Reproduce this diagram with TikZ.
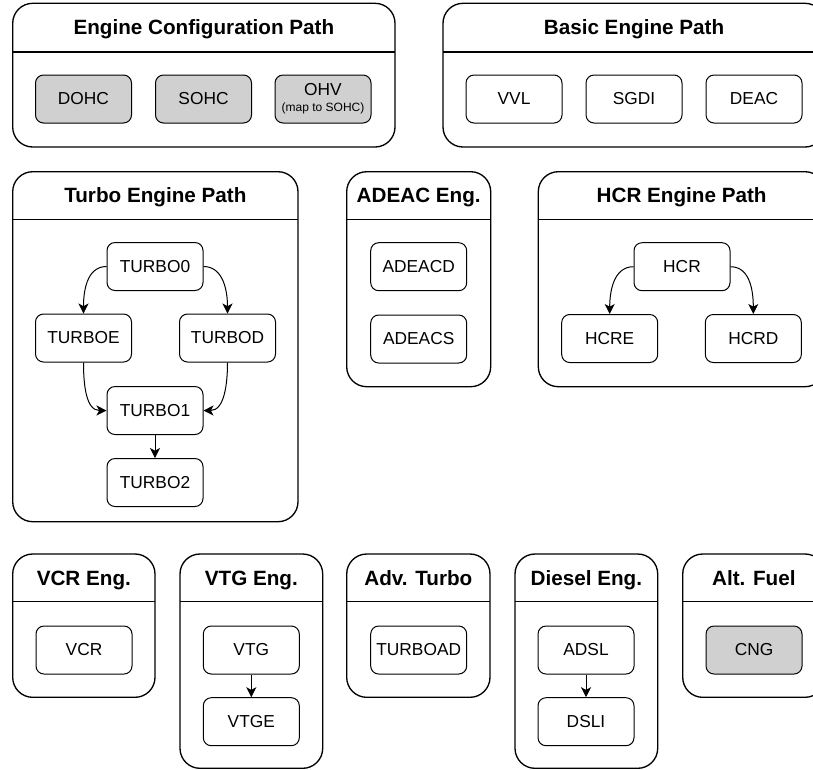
\documentclass[tikz,border=0pt]{standalone}
\usepackage{fontspec}
\setmainfont{Liberation Sans}
\usetikzlibrary{arrows.meta}
\definecolor{boxgray}{HTML}{D0D0D0}
\newcommand{\grp}[7]{%
  \draw[cont] (#2,#3) rectangle (#4,#5);
  \draw[cont] (#2,#6) -- (#4,#6);
  \node[ttl] (#1) at ({(#2+#4)/2},{#3+31}) {#7};}
\begin{document}
\begin{tikzpicture}[x=0.75pt,y=-0.75pt,
  box/.style={draw, rounded corners=6pt, minimum width=72pt, minimum height=36pt,
    font=\fontsize{13}{15}\selectfont, line width=0.75pt, inner sep=0pt, align=center},
  graybox/.style={box, fill=boxgray},
  cont/.style={draw, rounded corners=15pt, line width=1pt},
  ttl/.style={font=\bfseries\fontsize{15.5}{18}\selectfont, inner sep=0pt, anchor=base},
  arr/.style={-{Stealth[length=7.5pt,width=7.5pt,inset=2pt]}, line width=0.75pt}]
\useasboundingbox (0,0) rectangle (813,769);
\clip (0,0) rectangle (813,769);

% containers
\grp{tEC}{12.7}{3.3}{395}{147}{52}{Engine Configuration Path}
\grp{tBE}{443}{3.3}{825}{147}{52}{Basic Engine Path}
\grp{tTU}{12.7}{171.7}{298}{521.7}{219.3}{Turbo Engine Path}
\grp{tAD}{346.7}{171.7}{490.7}{386.7}{219.3}{ADEAC Eng.}
\grp{tHC}{538.3}{171.7}{825}{386.7}{219.3}{HCR Engine Path}
\grp{tVC}{12.7}{554}{155}{697.3}{601.7}{VCR Eng.}
\grp{tVT}{180}{554}{322.7}{768.3}{601.7}{VTG Eng.}
\grp{tAT}{346.7}{554}{490}{697.3}{601.7}{Adv. Turbo}
\grp{tDS}{515}{554}{657.7}{768.3}{601.7}{Diesel Eng.}
\grp{tAF}{682.7}{554}{825}{697.3}{601.7}{Alt. Fuel}

% engine configuration
\node[graybox] (dohc) at (83.5,99) {DOHC};
\node[graybox] (sohc) at (203.5,99) {SOHC};
\node[graybox] (ohv) at (323,99) {OHV\\[-3pt]{\fontsize{9}{10}\selectfont (map to SOHC)}};

% basic
\node[box] (vvl) at (514,99) {VVL};
\node[box] (sgdi) at (634,99) {SGDI};
\node[box] (deac) at (754,99) {DEAC};

% turbo
\node[box] (t0) at (155,266.5) {TURBO0};
\node[box] (te) at (83.5,338) {TURBOE};
\node[box] (td) at (227.5,338) {TURBOD};
\node[box] (t1) at (155,410.5) {TURBO1};
\node[box] (t2) at (155,482.5) {TURBO2};
\draw[arr] (t0.west) to[out=180,in=90] (te.north);
\draw[arr] (t0.east) to[out=0,in=90] (td.north);
\draw[arr] (te.south) to[out=-90,in=180] (t1.west);
\draw[arr] (td.south) to[out=-90,in=0] (t1.east);
\draw[arr] (t1.south) -- (t2.north);

% adeac
\node[box] (adcd) at (418.7,266.7) {ADEACD};
\node[box] (adcs) at (418.7,339) {ADEACS};

% hcr
\node[box] (hcr) at (682,266.7) {HCR};
\node[box] (hcre) at (609.7,338.5) {HCRE};
\node[box] (hcrd) at (753.3,338.5) {HCRD};
\draw[arr] (hcr.west) to[out=180,in=90] (hcre.north);
\draw[arr] (hcr.east) to[out=0,in=90] (hcrd.north);

% bottom row
\node[box] (vcr) at (84,650) {VCR};
\node[box] (vtg) at (251.3,650) {VTG};
\node[box] (vtge) at (251.3,721.7) {VTGE};
\draw[arr] (vtg.south) -- (vtge.north);
\node[box] (tad) at (418.7,650) {TURBOAD};
\node[box] (adsl) at (586,650) {ADSL};
\node[box] (dsli) at (586,721.7) {DSLI};
\draw[arr] (adsl.south) -- (dsli.north);
\node[graybox] (cng) at (754,650) {CNG};
\end{tikzpicture}
\end{document}
